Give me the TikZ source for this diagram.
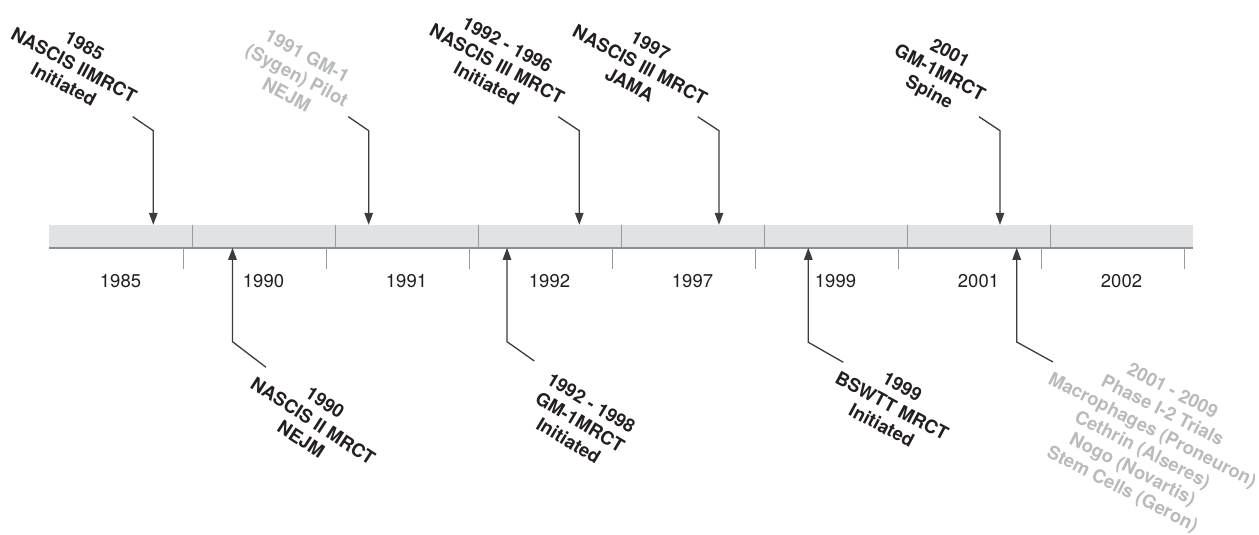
\documentclass[tikz,border=0pt]{standalone}
\usepackage{fontspec}
\setmainfont{TeX Gyre Heros}
\usetikzlibrary{arrows.meta,calc}
\definecolor{barfill}{HTML}{E1E2E4}
\definecolor{divc}{HTML}{9A9A9A}
\definecolor{basec}{HTML}{8E8E8E}
\definecolor{arrc}{HTML}{3C3C3C}
\definecolor{txt}{HTML}{231F20}
\definecolor{gtxt}{HTML}{B8BABC}
\tikzset{
  seg/.style={minimum width=143pt, minimum height=23pt, fill=barfill, draw=none, inner sep=0pt, outer sep=0pt},
  divline/.style={draw=divc, line width=1pt},
  baseline/.style={draw=basec, line width=2pt},
  tickline/.style={draw=divc, line width=1pt},
  yearlab/.style={font=\fontsize{18.5}{22}\selectfont, text=txt, inner sep=0pt},
  lab/.style={font=\fontsize{18.5}{22}\selectfont\bfseries, align=center, inner sep=0pt, text=txt},
  glab/.style={lab, text=gtxt},
  arr/.style={draw=arrc, line width=1.3pt, -{Triangle[length=12pt,width=8.5pt]}},
}
\begin{document}
\begin{tikzpicture}[x=1pt,y=-1pt]
\useasboundingbox (0,0) rectangle (1259,535);
% bar segments
\foreach \i in {0,...,7} \node[seg] (s\i) at ({120.5+143*\i},236.3) {};
\foreach \i in {1,...,7} \draw[divline] (s\i.north west) -- (s\i.south west);
\draw[baseline] (s0.south west) -- (s7.south east);
\foreach \i in {0,...,7} \draw[tickline] ($(s\i.south east)+(-8.5,0)$) -- ++(0,21.5);
% year labels
\foreach \i/\yr in {0/1985,1/1990,2/1991,3/1992,4/1997,5/1999,6/2001,7/2002}
  \node[yearlab] (y\i) at ($(s\i.south)+(0,33.5)$) {\yr};
% top labels
\node[lab, rotate=-28] (t1985) at (74,65) {1985\\NASCIS IIMRCT\\Initiated};
\node[glab, rotate=-28] (t1991) at (297,75) {1991 GM-1\\(Sygen) Pilot\\NEJM};
\node[lab, rotate=-28] (t1992a) at (497,64) {1992 - 1996\\NASCIS III MRCT\\Initiated};
\node[lab, rotate=-28] (t1997) at (640,65) {1997\\NASCIS III MRCT\\JAMA};
\node[lab, rotate=-28] (t2001) at (939,74) {2001\\GM-1MRCT\\Spine};
% bottom labels
\node[lab, rotate=-33] (t1990) at (313,421) {1990\\NASCIS II MRCT\\NEJM};
\node[lab, rotate=-31] (t1992b) at (580,422) {1992 - 1998\\GM-1MRCT\\Initiated};
\node[lab, rotate=-28] (t1999) at (892,406) {1999\\BSWTT MRCT\\Initiated};
\node[glab, rotate=-27] (t2009) at (1147,441) {2001 - 2009\\Phase I-2 Trials\\Macrophages (Proneuron)\\Cethrin (Alseres)\\Nogo (Novartis)\\Stem Cells (Geron)};
% top arrows
\coordinate (e1) at (132.7,116.7); \coordinate (k1) at (153.3,130.7);
\coordinate (e2) at (348.3,116.7); \coordinate (k2) at (368.7,130.7);
\coordinate (e3) at (558.3,116.7); \coordinate (k3) at (579.3,130.7);
\coordinate (e4) at (697.7,116.7); \coordinate (k4) at (719,130.7);
\coordinate (e5) at (979,116.7);   \coordinate (k5) at (1000,130.7);
\draw[arr] (e1) -- (k1) -- (k1 |- s0.north);
\draw[arr] (e2) -- (k2) -- (k2 |- s2.north);
\draw[arr] (e3) -- (k3) -- (k3 |- s3.north);
\draw[arr] (e4) -- (k4) -- (k4 |- s4.north);
\draw[arr] (e5) -- (k5) -- (k5 |- s6.north);
% bottom arrows
\coordinate (be1) at (266,367.3);  \coordinate (bk1) at (232.5,341.7);
\coordinate (be2) at (534.3,361);  \coordinate (bk2) at (507,341.7);
\coordinate (be3) at (843.3,362.3);\coordinate (bk3) at (808.3,342.3);
\coordinate (be4) at (1053,362);   \coordinate (bk4) at (1016.7,342);
\draw[arr] (be1) -- (bk1) -- (bk1 |- s1.south);
\draw[arr] (be2) -- (bk2) -- (bk2 |- s3.south);
\draw[arr] (be3) -- (bk3) -- (bk3 |- s5.south);
\draw[arr] (be4) -- (bk4) -- (bk4 |- s6.south);
\end{tikzpicture}
\end{document}
